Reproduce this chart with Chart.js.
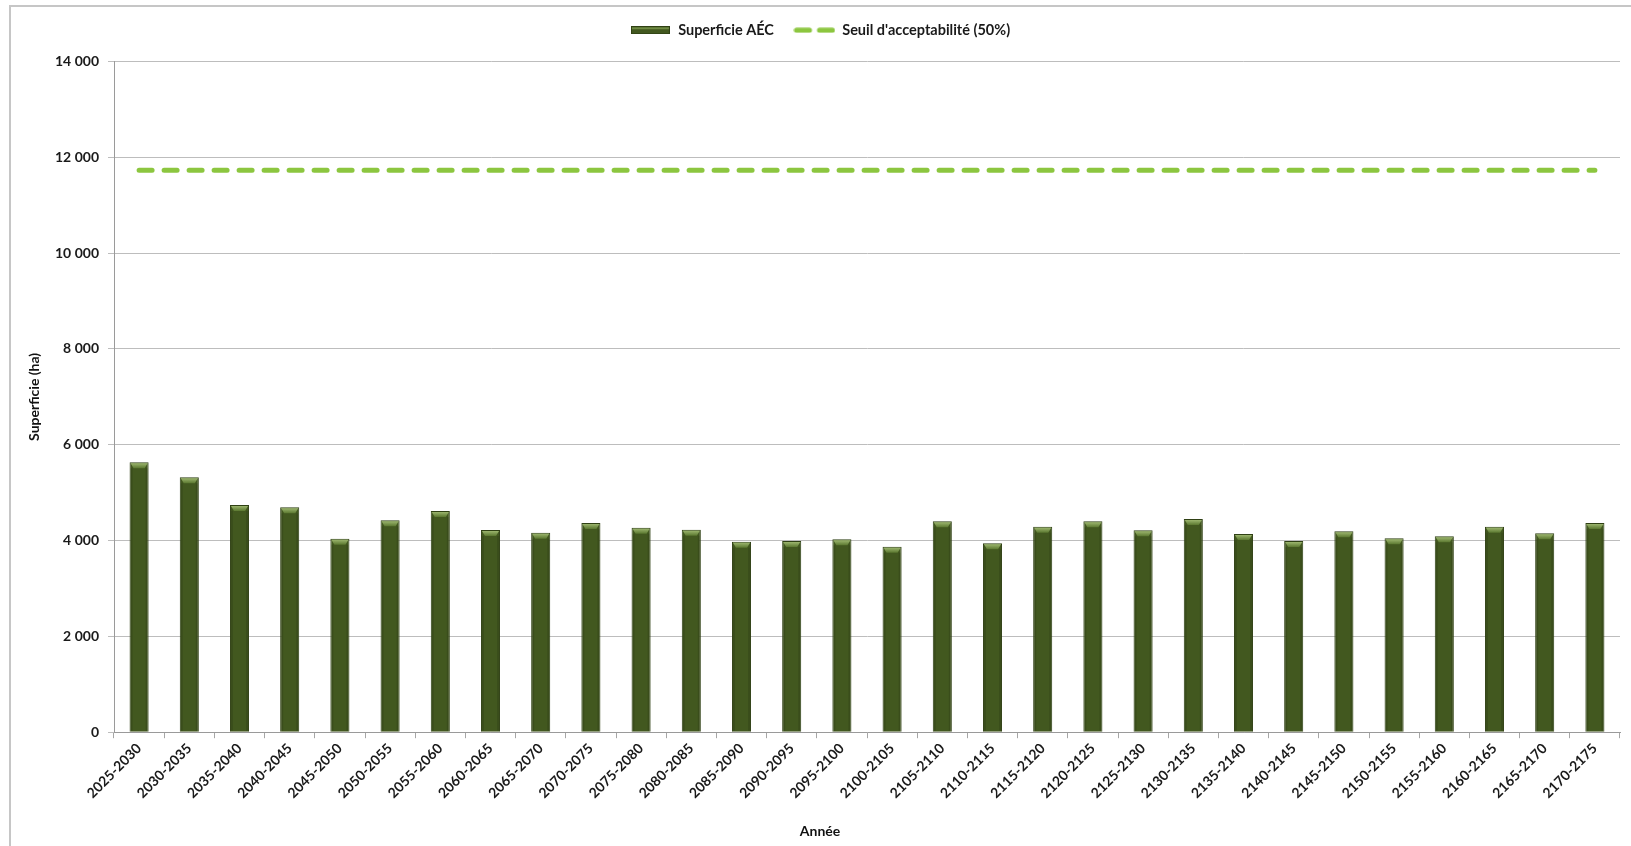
<!DOCTYPE html>
<html><head><meta charset="utf-8">
<script src="https://cdn.jsdelivr.net/npm/chart.js@4.4.1/dist/chart.umd.min.js"></script>
<style>
html,body{margin:0;padding:0;background:#fff;overflow:hidden;}
#wrap{position:relative;width:1631px;height:846px;}
#frame{position:absolute;left:9px;top:5px;width:1640px;height:860px;border:2px solid #c6c6c6;box-sizing:border-box;}
canvas{position:absolute;left:0;top:0;}
</style></head><body>
<div id="wrap"><div id="frame"></div><canvas id="c" width="1631" height="846"></canvas></div>
<script>
// ---- data ----
const categories = ["2025-2030","2030-2035","2035-2040","2040-2045","2045-2050","2050-2055","2055-2060","2060-2065","2065-2070","2070-2075","2075-2080","2080-2085","2085-2090","2090-2095","2095-2100","2100-2105","2105-2110","2110-2115","2115-2120","2120-2125","2125-2130","2130-2135","2135-2140","2140-2145","2145-2150","2150-2155","2155-2160","2160-2165","2165-2170","2170-2175"];
const superficieAEC = [5636,5322,4744,4695,4040,4424,4618,4221,4165,4368,4270,4228,3977,3990,4027,3873,4402,3943,4290,4402,4215,4451,4138,3990,4195,4048,4090,4290,4153,4368];
const seuilAcceptabilite = [11730,11730,11730,11730,11730,11730,11730,11730,11730,11730,11730,11730,11730,11730,11730,11730,11730,11730,11730,11730,11730,11730,11730,11730,11730,11730,11730,11730,11730,11730];
const yTickValues = [0,2000,4000,6000,8000,10000,12000,14000];
const seriesNames = ["Superficie AÉC","Seuil d'acceptabilité (50%)"];
const axisTitles = {x:"Année", y:"Superficie (ha)"};

// ---- styles ----
const BAR = '#42581f', BAR_EDGE = '#2f4014', LINE = '#8cc63f';
const FONT = 'Lato, "Liberation Sans", sans-serif';

function fmt(v){ return String(v).replace(/\B(?=(\d{3})+(?!\d))/g,' '); }

// legend icons
function barIcon(){
  const c=document.createElement('canvas'); c.width=39; c.height=8;
  const x=c.getContext('2d');
  x.fillStyle=BAR_EDGE; x.fillRect(0,0,39,8);
  x.fillStyle=BAR; x.fillRect(1,1,37,6);
  x.fillStyle='#6f8b43'; x.fillRect(1,1,37,2);
  return c;
}
function dashIcon(){
  const c=document.createElement('canvas'); c.width=42; c.height=6;
  const x=c.getContext('2d');
  x.strokeStyle=LINE; x.lineWidth=5; x.lineCap='round';
  x.beginPath(); x.moveTo(3,3); x.lineTo(16,3); x.moveTo(26,3); x.lineTo(39,3); x.stroke();
  return c;
}
const icons=[barIcon(),dashIcon()];

const legendGap = {
  id:'legendGap',
  afterInit(chart){
    const lg=chart.legend; if(!lg) return;
    const f=lg.fit;
    lg.fit=function(){ f.call(this); this.height+=14; };
  }
};

const barBevel = {
  id:'barBevel',
  afterDatasetsDraw(chart){
    const meta=chart.getDatasetMeta(0), ctx=chart.ctx;
    ctx.save();
    meta.data.forEach(bar=>{
      const p=bar.getProps(['x','y','width','base'],true);
      const l=p.x-p.width/2, r=p.x+p.width/2, y=p.y, h=6;
      ctx.fillStyle='rgba(0,0,0,0.12)';
      ctx.fillRect(l+1,y+h,2,p.base-y-h-1);
      ctx.fillRect(r-3,y+h,2,p.base-y-h-1);
      const g=ctx.createLinearGradient(0,y,0,y+h);
      g.addColorStop(0,'#a9c27a'); g.addColorStop(1,'#5b7830');
      ctx.fillStyle=g;
      ctx.beginPath();
      ctx.moveTo(l+1,y+1); ctx.lineTo(r-1,y+1); ctx.lineTo(r-4,y+h); ctx.lineTo(l+4,y+h);
      ctx.closePath(); ctx.fill();
    });
    ctx.restore();
  }
};

new Chart(document.getElementById('c'),{
  data:{
    labels:categories,
    datasets:[
      {type:'bar', label:seriesNames[0], data:superficieAEC, backgroundColor:BAR, borderColor:BAR_EDGE, borderWidth:1,
       categoryPercentage:1.0, barPercentage:0.38, order:2},
      {type:'line', label:seriesNames[1], data:seuilAcceptabilite, borderColor:LINE, borderWidth:5,
       borderDash:[13,12], borderCapStyle:'round', pointRadius:0, fill:false, order:1}
    ]
  },
  options:{
    responsive:false, animation:false,
    layout:{padding:{left:20,right:11,top:3,bottom:6}},
    plugins:{
      legend:{
        position:'top',
        labels:{
          usePointStyle:true, pointStyleWidth:41, padding:20,
          font:{family:FONT,size:14.5,weight:'bold'}, color:'#1a1a1a',
          generateLabels(chart){
            return chart.data.datasets.map((d,i)=>({text:d.label, pointStyle:icons[i], datasetIndex:i, hidden:false,
              fillStyle:'transparent', strokeStyle:'transparent', lineWidth:0, fontColor:'#1a1a1a'}));
          }
        }
      },
      title:{display:true, position:'bottom', text:axisTitles.x, color:'#111',
             font:{family:FONT,size:14,weight:'bold'}, padding:{top:0,bottom:0}},
      tooltip:{enabled:false}
    },
    scales:{
      x:{
        offset:true,
        grid:{drawOnChartArea:false, drawTicks:true, tickLength:6, color:'#a6a6a6'},
        border:{color:'#9a9a9a', width:1},
        ticks:{autoSkip:false, maxRotation:45, minRotation:45, padding:2, color:'#1a1a1a',
               font:{family:FONT,size:14,weight:'bold'}},
        afterFit(s){ s.height=91; }
      },
      y:{
        min:0, max:14000,
        afterBuildTicks(s){ s.ticks=yTickValues.map(v=>({value:v})); },
        grid:{color:'#bdbdbd', tickLength:6, drawTicks:true},
        border:{color:'#9a9a9a', width:1},
        ticks:{padding:9, color:'#1a1a1a', font:{family:FONT,size:14,weight:'bold'}, callback:v=>fmt(v)},
        title:{display:true, text:axisTitles.y, color:'#111', font:{family:FONT,size:14,weight:'bold'}, padding:{top:6,bottom:0}},
        afterFit(s){ s.width=94; }
      }
    }
  },
  plugins:[legendGap, barBevel]
});
</script>
</body></html>
